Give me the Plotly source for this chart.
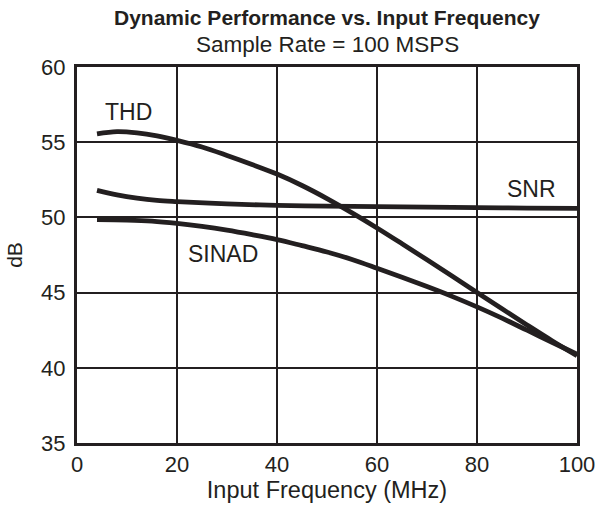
import plotly.graph_objects as go

# Data
thd_freq = [4, 8, 12, 16, 20, 25, 30, 35, 40, 45, 50, 55, 60, 65, 70, 75, 80, 85, 90, 95, 100]
thd_db = [55.55, 55.7, 55.62, 55.42, 55.12, 54.68, 54.12, 53.52, 52.88, 52.12, 51.25, 50.3, 49.3, 48.25, 47.18, 46.1, 45.0, 43.92, 42.85, 41.8, 40.8]

snr_freq = [4, 8, 12, 16, 20, 30, 40, 50, 60, 70, 80, 90, 100]
snr_db = [51.8, 51.5, 51.28, 51.13, 51.05, 50.9, 50.8, 50.75, 50.72, 50.68, 50.65, 50.62, 50.6]

sinad_freq = [4, 10, 15, 20, 25, 30, 35, 40, 45, 50, 55, 60, 65, 70, 75, 80, 85, 90, 95, 100]
sinad_db = [49.85, 49.82, 49.75, 49.6, 49.4, 49.15, 48.85, 48.52, 48.12, 47.7, 47.2, 46.62, 46.02, 45.4, 44.75, 44.05, 43.3, 42.5, 41.7, 40.9]

x_ticks = [0, 20, 40, 60, 80, 100]
y_ticks = [35, 40, 45, 50, 55, 60]

labels = ["THD", "SNR", "SINAD"]
label_x = [10.2, 90.8, 29.2]
label_y = [57.0, 51.9, 47.6]

title = "Dynamic Performance vs. Input Frequency"
subtitle = "Sample Rate = 100 MSPS"

INK = "#231f20"
FONT = "Liberation Sans, Arial, sans-serif"

fig = go.Figure()
for xs, ys in [(thd_freq, thd_db), (snr_freq, snr_db), (sinad_freq, sinad_db)]:
    fig.add_trace(go.Scatter(x=xs, y=ys, mode="lines",
                             line=dict(color=INK, width=4.8, shape="spline", smoothing=1.0),
                             showlegend=False, hoverinfo="skip"))

for t, xv, yv in zip(labels, label_x, label_y):
    fig.add_annotation(x=xv, y=yv, text=t, showarrow=False,
                       font=dict(family=FONT, size=23, color=INK),
                       xanchor="center", yanchor="middle")

fig.add_annotation(xref="paper", yref="paper", x=0.5, y=1.1326, text="<b>" + title + "</b>",
                   showarrow=False, xanchor="center", yanchor="middle",
                   font=dict(family=FONT, size=21, color=INK))
fig.add_annotation(xref="paper", yref="paper", x=0.5, y=1.061, text=subtitle,
                   showarrow=False, xanchor="center", yanchor="middle",
                   font=dict(family=FONT, size=22.5, color=INK))

fig.update_layout(
    width=607, height=510,
    margin=dict(l=77, r=25, t=67, b=66),
    paper_bgcolor="white", plot_bgcolor="white",
    font=dict(family=FONT, color=INK),
)
fig.update_xaxes(range=[0, 100], tickvals=x_ticks, ticktext=[str(v) for v in x_ticks],
                 showgrid=True, gridcolor=INK, gridwidth=2.2,
                 showline=True, linecolor=INK, linewidth=3, mirror=True,
                 zeroline=False, ticks="", tickfont=dict(size=22, family=FONT, color=INK),
                 title=dict(text="Input Frequency (MHz)", font=dict(size=23.5, family=FONT, color=INK), standoff=4))
fig.update_yaxes(range=[35, 60], tickvals=y_ticks, ticktext=[str(v) for v in y_ticks],
                 showgrid=True, gridcolor=INK, gridwidth=2.2,
                 showline=True, linecolor=INK, linewidth=3, mirror=True,
                 zeroline=False, ticks="outside", ticklen=4, tickcolor="rgba(0,0,0,0)",
                 tickfont=dict(size=22, family=FONT, color=INK),
                 title=dict(text="dB", font=dict(size=21, family=FONT, color=INK), standoff=13))

fig.write_html("out.html", config={"displayModeBar": False},
               post_script="document.body.style.margin='0';document.body.style.overflow='hidden';")
